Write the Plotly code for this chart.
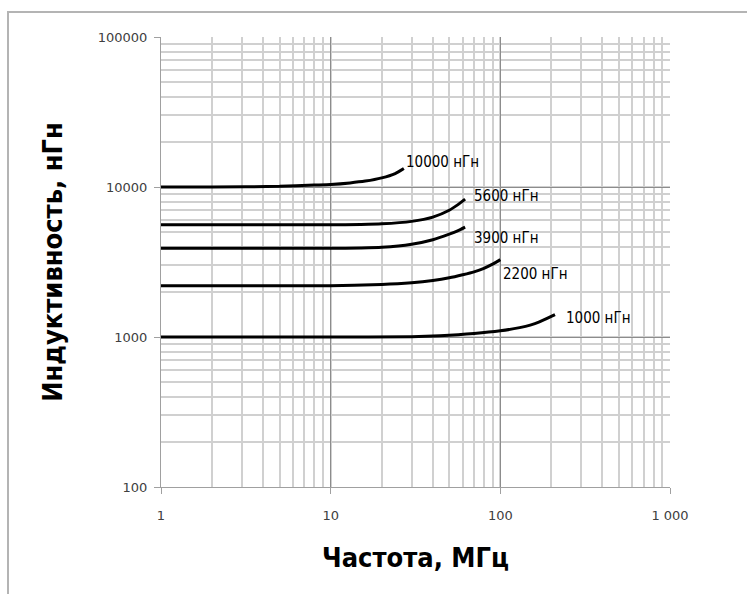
import math
import plotly.graph_objects as go

# ---- data ----
freq_10000 = [1, 2, 5, 8, 10, 13, 16, 20, 24, 27]
ind_10000 = [10000, 10000, 10100, 10300, 10400, 10650, 10950, 11500, 12300, 13300]

freq_5600 = [1, 5, 10, 15, 20, 30, 40, 50, 56, 62]
ind_5600 = [5600, 5600, 5600, 5630, 5680, 5900, 6300, 7000, 7600, 8300]

freq_3900 = [1, 5, 10, 15, 20, 30, 40, 50, 56, 62]
ind_3900 = [3900, 3900, 3900, 3920, 3960, 4150, 4450, 4850, 5100, 5400]

freq_2200 = [1, 10, 20, 30, 40, 50, 60, 70, 80, 90, 100]
ind_2200 = [2200, 2200, 2240, 2300, 2380, 2480, 2600, 2720, 2870, 3060, 3280]

freq_1000 = [1, 10, 30, 44, 70, 100, 130, 150, 170, 190, 210]
ind_1000 = [1000, 1000, 1005, 1020, 1055, 1100, 1155, 1200, 1260, 1335, 1410]

series_labels = ["10000 нГн", "5600 нГн", "3900 нГн", "2200 нГн", "1000 нГн"]

x_tickvals = [1, 10, 100, 1000]
x_ticktext = ["1", "10", "100", "1 000"]
y_tickvals = [100, 1000, 10000, 100000]
y_ticktext = ["100", "1000", "10000", "100000"]

x_title = "Частота, МГц"
y_title = "Индуктивность, нГн"

# ---- figure ----
series = [
    (freq_10000, ind_10000),
    (freq_5600, ind_5600),
    (freq_3900, ind_3900),
    (freq_2200, ind_2200),
    (freq_1000, ind_1000),
]
# label offsets in pixels from the curve end
label_shifts = [(0, 6), (7, 3), (7, -11), (1, -14), (9, -3)]

NARROW = ("Liberation Sans Narrow, Noto Sans ExtraCondensed, Noto Sans Condensed, "
          "DejaVu Sans Condensed, Roboto Condensed, Arial Narrow, Noto Sans, sans-serif")

fig = go.Figure()
annotations = []
for (fx, ly), name, (dx, dy) in zip(series, series_labels, label_shifts):
    fig.add_trace(go.Scatter(
        x=fx, y=ly, mode="lines", name=name,
        line=dict(color="black", width=3, shape="spline", smoothing=0.6),
        showlegend=False, hoverinfo="skip",
    ))
    annotations.append(dict(
        x=math.log10(fx[-1]), y=math.log10(ly[-1]), xref="x", yref="y",
        text=name, showarrow=False, xanchor="left", yanchor="middle",
        xshift=dx, yshift=dy,
        font=dict(family=NARROW, size=15, color="black"),
    ))

L, R, T, B = 161, 77, 37, 107
W, H = 747, 594
pw = W - L - R
ph = H - T - B

def px_x(p):
    return (p - L) / pw

def px_y(p):
    return (H - B - p) / ph

shapes = [
    dict(type="line", xref="paper", yref="paper",
         x0=px_x(8), x1=px_x(8), y0=px_y(12), y1=px_y(600),
         line=dict(color="#b4b4b4", width=2)),
    dict(type="line", xref="paper", yref="paper",
         x0=px_x(7), x1=px_x(760), y0=px_y(12), y1=px_y(12),
         line=dict(color="#b4b4b4", width=2)),
]

axis_common = dict(
    type="log",
    showline=True, linecolor="#a0a0a0", linewidth=1,
    ticks="outside", ticklen=6, tickcolor="#a0a0a0", tickwidth=1,
    showgrid=True, gridcolor="#8c8c8c", gridwidth=1,
    tickfont=dict(family="DejaVu Sans, Verdana, sans-serif", size=13, color="#404040"),
    zeroline=False,
    minor=dict(dtick="D1", showgrid=True, gridcolor="#d0d0d0", gridwidth=1.5, ticks=""),
)

fig.update_layout(
    width=W, height=H,
    margin=dict(l=L, r=R, t=T, b=B),
    paper_bgcolor="white", plot_bgcolor="white",
    xaxis=dict(
        range=[0, 3], tickvals=x_tickvals, ticktext=x_ticktext,
        ticklabelstandoff=10,
        title=dict(text=x_title, standoff=26,
                   font=dict(family=NARROW, size=27, color="black", weight="bold")),
        **axis_common,
    ),
    yaxis=dict(
        range=[2, 5], tickvals=y_tickvals, ticktext=y_ticktext,
        ticklabelstandoff=4,
        title=dict(text=y_title, standoff=27,
                   font=dict(family=NARROW, size=27, color="black", weight="bold")),
        **axis_common,
    ),
    annotations=annotations,
    shapes=shapes,
)

fig.write_html("out.html")
